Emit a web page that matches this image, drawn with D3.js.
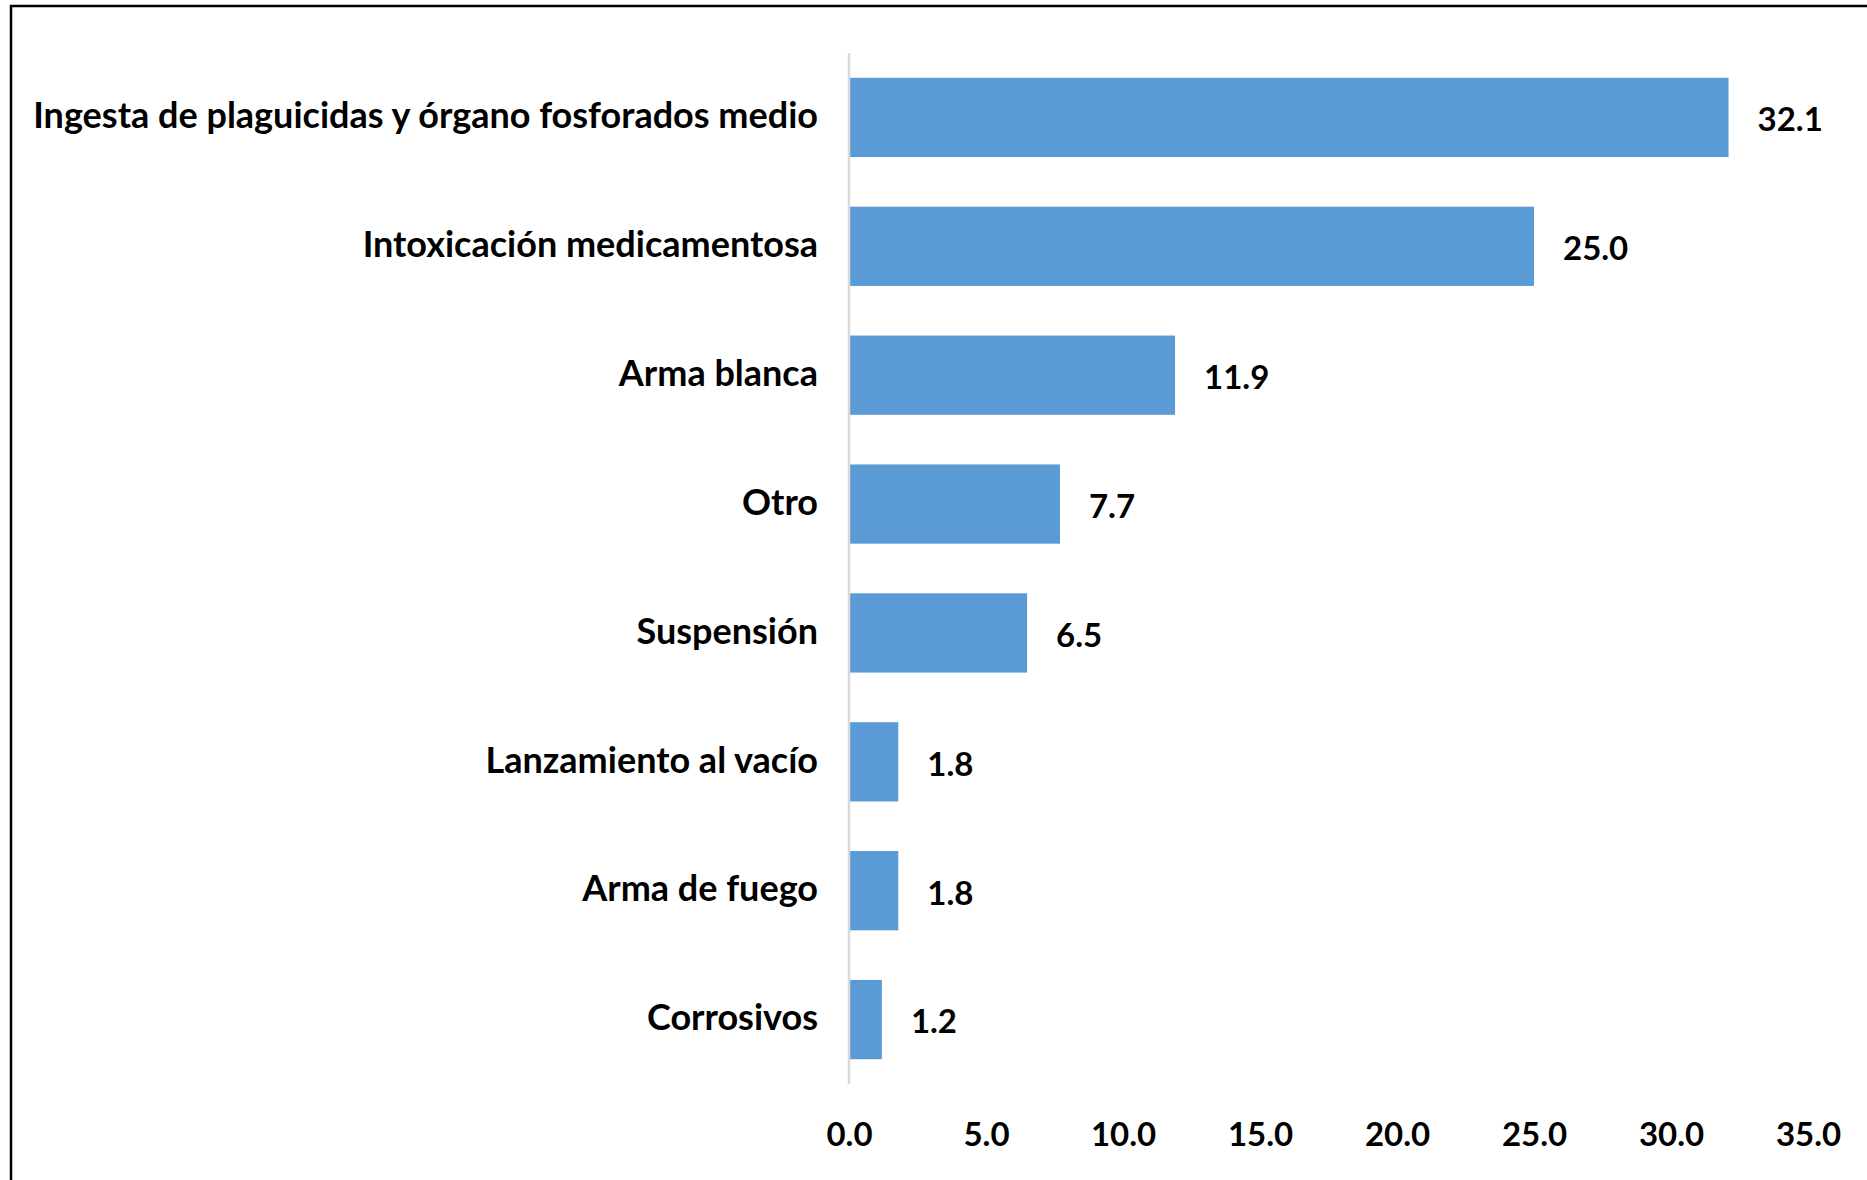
<!DOCTYPE html>
<html>
<head>
<meta charset="utf-8">
<script src="https://cdn.jsdelivr.net/npm/d3@7"></script>
<style>
  html, body { margin: 0; padding: 0; background: #fff; }
  svg { display: block; }
</style>
</head>
<body>
<div id="chart"></div>
<script>
const categories = [
  'Ingesta de plaguicidas y órgano fosforados medio',
  'Intoxicación medicamentosa',
  'Arma blanca',
  'Otro',
  'Suspensión',
  'Lanzamiento al vacío',
  'Arma de fuego',
  'Corrosivos'
];
const values = [32.1, 25.0, 11.9, 7.7, 6.5, 1.8, 1.8, 1.2];
const tickValues = [0, 5, 10, 15, 20, 25, 30, 35];

const width = 1867;
const height = 1180;
const font = 'Lato, "Open Sans", sans-serif';

const svg = d3.select('#chart')
  .append('svg')
  .attr('width', width)
  .attr('height', height);

// outer frame, runs off the right and bottom edges
svg.append('rect')
  .attr('x', 11)
  .attr('y', 6)
  .attr('width', width)
  .attr('height', height)
  .attr('fill', 'none')
  .attr('stroke', '#000')
  .attr('stroke-width', 2.5);

const x = d3.scaleLinear()
  .domain([0, 35])
  .range([849, 1808]);

const y = d3.scaleBand()
  .domain(categories)
  .range([53, 1084])
  .paddingInner(0.385)
  .paddingOuter(0.1925);

const fmt = d3.format('.1f');

svg.append('g')
  .selectAll('rect')
  .data(values)
  .join('rect')
  .attr('x', x(0) + 1)
  .attr('y', (d, i) => y(categories[i]))
  .attr('width', d => x(d) - x(0) - 1)
  .attr('height', y.bandwidth())
  .attr('fill', '#5B9BD5');

// vertical axis line
svg.append('line')
  .attr('x1', x(0))
  .attr('x2', x(0))
  .attr('y1', y.range()[0])
  .attr('y2', y.range()[1])
  .attr('stroke', '#d9d9d9')
  .attr('stroke-width', 2.5);

// category labels
svg.append('g')
  .selectAll('text')
  .data(categories)
  .join('text')
  .attr('x', x(0) - 31)
  .attr('y', d => y(d) + y.bandwidth() / 2)
  .attr('dy', '0.3em')
  .attr('text-anchor', 'end')
  .style('font', `bold 36px ${font}`)
  .attr('fill', '#000')
  .text(d => d);

// value labels
svg.append('g')
  .selectAll('text')
  .data(values)
  .join('text')
  .attr('x', d => x(d) + 29)
  .attr('y', (d, i) => y(categories[i]) + y.bandwidth() / 2)
  .attr('dy', '0.42em')
  .style('font', `bold 33px ${font}`)
  .attr('fill', '#000')
  .text(d => fmt(d));

// x axis tick labels (no line, no ticks)
const xAxis = svg.append('g')
  .attr('transform', 'translate(0,1123)')
  .call(d3.axisBottom(x).tickValues(tickValues).tickFormat(fmt).tickSize(0).tickPadding(0));
xAxis.select('.domain').remove();
xAxis.selectAll('text')
  .attr('dy', '0.71em')
  .style('font', `bold 33px ${font}`)
  .attr('fill', '#000');
</script>
</body>
</html>
